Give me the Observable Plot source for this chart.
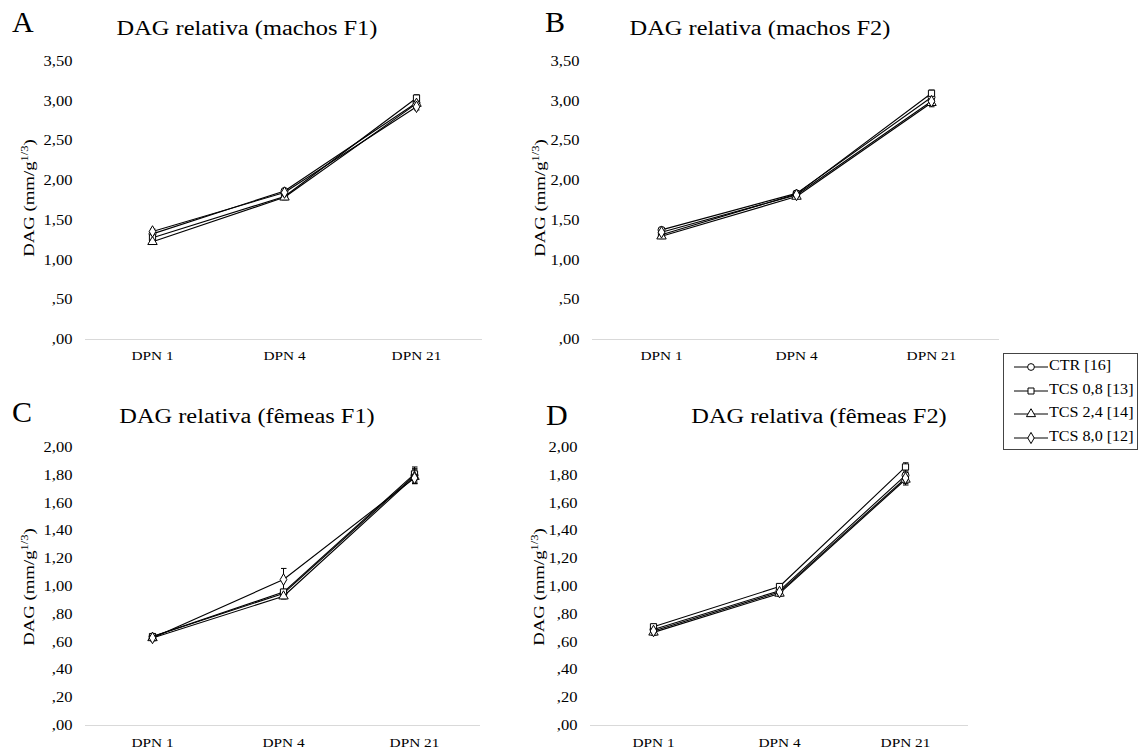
<!DOCTYPE html>
<html><head><meta charset="utf-8">
<script src="https://cdn.jsdelivr.net/npm/d3@7"></script>
<script src="https://cdn.jsdelivr.net/npm/@observablehq/plot@0.6"></script>
<style>
body{margin:0;background:#fff;}
#root{position:relative;width:1140px;height:753px;overflow:hidden;font-family:"Liberation Serif","Times New Roman",serif;color:#000;background:#fff;}
.abs{position:absolute;white-space:nowrap;}
.title{font-size:20px;line-height:20px;transform:translateX(-50%) scaleX(1.22);}
.letter{font-size:30px;line-height:30px;}
.ylab{font-size:15px;line-height:15px;transform:translate(-50%,-50%) rotate(-90deg) scaleX(1.25);}
.ylab sup{font-size:10px;vertical-align:6px;line-height:0;}
.legtxt{position:absolute;left:45px;font-size:14px;line-height:14px;transform-origin:0 50%;transform:scaleX(1.15);}
</style></head><body><div id="root"></div>
<script>
const categories = ["DPN 1", "DPN 4", "DPN 21"];
const seriesNames = ["CTR [16]", "TCS 0,8 [13]", "TCS 2,4 [14]", "TCS 8,0 [12]"];
const seriesSymbols = ["circle", "square", "triangle", "diamond"];
const yTicksMachos = [0, 0.5, 1, 1.5, 2, 2.5, 3, 3.5];
const yTicksFemeas = [0, 0.2, 0.4, 0.6, 0.8, 1.0, 1.2, 1.4, 1.6, 1.8, 2.0];

// means: one row per series (CTR, TCS 0,8, TCS 2,4, TCS 8,0), columns DPN 1, 4, 21
const meanA = [[1.33, 1.87, 2.98], [1.28, 1.80, 3.04], [1.23, 1.79, 2.97], [1.36, 1.85, 2.93]];
const errA  = [[0.03, 0.03, 0.04], [0.03, 0.03, 0.04], [0.03, 0.03, 0.04], [0.03, 0.03, 0.04]];
const meanB = [[1.38, 1.84, 3.05], [1.32, 1.83, 3.10], [1.30, 1.80, 2.98], [1.35, 1.82, 3.00]];
const errB  = [[0.03, 0.02, 0.05], [0.03, 0.02, 0.04], [0.03, 0.02, 0.05], [0.03, 0.02, 0.04]];
const meanC = [[0.64, 0.95, 1.80], [0.64, 0.96, 1.81], [0.63, 0.93, 1.79], [0.63, 1.05, 1.78]];
const errC  = [[0.02, 0.02, 0.05], [0.02, 0.02, 0.05], [0.02, 0.02, 0.05], [0.02, 0.08, 0.04]];
const meanD = [[0.69, 0.97, 1.80], [0.71, 1.00, 1.86], [0.67, 0.95, 1.77], [0.68, 0.96, 1.78]];
const errD  = [[0.02, 0.02, 0.04], [0.02, 0.02, 0.03], [0.02, 0.02, 0.04], [0.02, 0.02, 0.04]];

const root = document.getElementById("root");
const fmt = d => { const s = d.toFixed(2).replace(".", ","); return s.startsWith("0,") ? s.slice(1) : s; };

function rowsOf(means, errs) {
  const rows = [];
  means.forEach((vals, s) => vals.forEach((v, c) => rows.push({series: seriesNames[s], cat: categories[c], v, e: errs[s][c]})));
  return rows;
}

function panel({means, errs, yDomain, yTicks, left, top, width, height, mL, mR, mT, mB, xPad}) {
  const rows = rowsOf(means, errs);
  const svg = Plot.plot({
    width, height, marginLeft: mL, marginRight: mR, marginTop: mT, marginBottom: mB,
    style: {fontFamily: '"Liberation Serif", "Times New Roman", serif', fontSize: "14px", color: "#000", background: "transparent", overflow: "visible"},
    x: {type: "point", domain: categories, padding: 0.5, label: null},
    y: {domain: yDomain, label: null},
    symbol: {domain: seriesNames, range: seriesSymbols},
    marks: [
      Plot.ruleY([0], {stroke: "#d9d9d9", strokeWidth: 1}),
      Plot.axisY({ticks: yTicks, tickSize: 0, tickPadding: 13, tickFormat: fmt, fontSize: 14, label: null}),
      Plot.axisX({tickSize: 0, tickPadding: xPad, fontSize: 13, label: null}),
      Plot.line(rows, {x: "cat", y: "v", z: "series", stroke: "#000", strokeWidth: 1.1}),
      Plot.link(rows, {x1: "cat", x2: "cat", y1: d => d.v - d.e, y2: d => d.v + d.e, stroke: "#000", strokeWidth: 1, markerStart: "tick", markerEnd: "tick"}),
      Plot.dot(rows, {x: "cat", y: "v", symbol: "series", r: 3.5, fill: "#fff", stroke: "#000", strokeWidth: 1})
    ]
  });
  svg.querySelectorAll('g[aria-label$="tick label"] text').forEach(t => {
    const tr = t.getAttribute("transform");
    if (tr) t.setAttribute("transform", tr + " scale(1.18,1)");
  });
  svg.style.position = "absolute";
  svg.style.left = left + "px";
  svg.style.top = top + "px";
  root.appendChild(svg);
}

panel({means: meanA, errs: errA, yDomain: [0, 3.5], yTicks: yTicksMachos, left: 0, top: 0, width: 540, height: 375, mL: 85, mR: 58, mT: 61, mB: 36, xPad: 11});
panel({means: meanB, errs: errB, yDomain: [0, 3.5], yTicks: yTicksMachos, left: 540, top: 0, width: 470, height: 375, mL: 52, mR: 11, mT: 61, mB: 36, xPad: 11});
panel({means: meanC, errs: errC, yDomain: [0, 2], yTicks: yTicksFemeas, left: 0, top: 375, width: 540, height: 378, mL: 85, mR: 60, mT: 72, mB: 28, xPad: 12});
panel({means: meanD, errs: errD, yDomain: [0, 2], yTicks: yTicksFemeas, left: 540, top: 375, width: 440, height: 378, mL: 50, mR: 12, mT: 72, mB: 28, xPad: 12});

function addText(cls, html, left, top) {
  const d = document.createElement("div");
  d.className = "abs " + cls;
  d.innerHTML = html;
  d.style.left = left + "px";
  d.style.top = top + "px";
  root.appendChild(d);
  return d;
}
const titles = ["DAG relativa (machos F1)", "DAG relativa (machos F2)", "DAG relativa (fêmeas F1)", "DAG relativa (fêmeas F2)"];
addText("letter", "A", 12, 7);
addText("letter", "B", 545, 7);
addText("letter", "C", 12, 397);
addText("letter", "D", 546, 400);
addText("title", titles[0], 247, 18);
addText("title", titles[1], 760, 18);
addText("title", titles[2], 247, 406);
addText("title", titles[3], 819, 406);
const yl = "DAG (mm/g<sup>1/3</sup>)";
addText("ylab", yl, 29, 198);
addText("ylab", yl, 540, 198);
addText("ylab", yl, 29, 587);
addText("ylab", yl, 539, 587);

// legend
const leg = document.createElement("div");
leg.className = "abs";
Object.assign(leg.style, {left: "1003px", top: "353px", width: "135px", height: "97px", border: "1px solid #444", boxSizing: "border-box"});
root.appendChild(leg);
const d3sym = {circle: d3.symbolCircle, square: d3.symbolSquare, triangle: d3.symbolTriangle, diamond: d3.symbolDiamond};
seriesNames.forEach((name, i) => {
  const cy = 13 + i * 23.5;
  const svg = d3.create("svg").attr("width", 36).attr("height", 14)
    .style("position", "absolute").style("left", "9px").style("top", (cy - 7) + "px");
  svg.append("line").attr("x1", 1).attr("x2", 35).attr("y1", 7).attr("y2", 7).attr("stroke", "#000");
  svg.append("path").attr("d", d3.symbol(d3sym[seriesSymbols[i]], 36)()).attr("transform", "translate(18,7)")
    .attr("fill", "#fff").attr("stroke", "#000");
  leg.appendChild(svg.node());
  const t = document.createElement("div");
  t.className = "legtxt abs";
  t.textContent = name;
  t.style.top = (cy - 8) + "px";
  leg.appendChild(t);
});
</script></body></html>
